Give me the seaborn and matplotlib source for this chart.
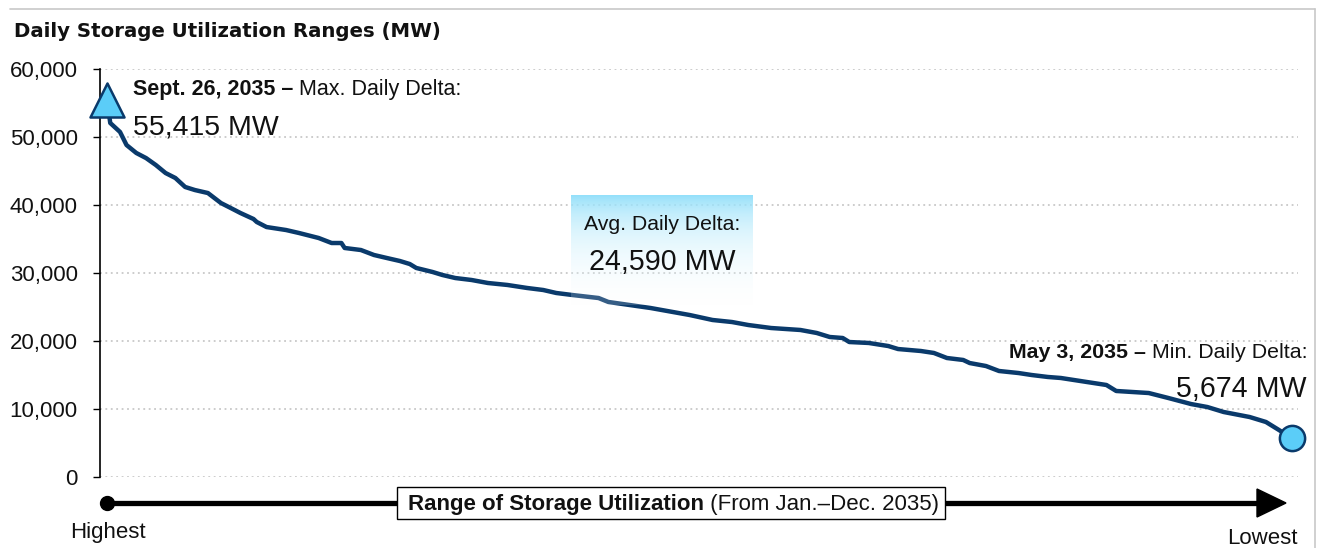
import numpy as np
import pandas as pd
import matplotlib
matplotlib.use("Agg")
import matplotlib.pyplot as plt
import seaborn as sns
from matplotlib import font_manager as fm
from matplotlib.patches import Rectangle, Polygon
from matplotlib.lines import Line2D
from matplotlib.ticker import FuncFormatter

# ---------------- data ----------------
day_rank = [1, 2, 5, 7, 10, 13, 16, 19, 22, 25, 28, 32, 36, 39, 42, 46, 47, 50, 56, 60,
            66, 70, 73, 74, 79, 83, 87, 91, 94, 96, 101, 104, 108, 113, 118, 124, 130, 135,
            139, 144, 152, 155, 168, 180, 187, 193, 198, 205, 214, 219, 223, 227, 229, 235,
            241, 244, 251, 255, 259, 264, 266, 271, 275, 281, 285, 290, 294, 302, 308, 311,
            321, 327, 334, 339, 344, 352, 357, 361, 365]
daily_delta_mw = [55415, 52060, 50740, 48820, 47650, 46900, 45880, 44700, 43970, 42650,
                  42200, 41760, 40290, 39560, 38820, 37940, 37500, 36760, 36320, 35880,
                  35150, 34410, 34410, 33680, 33380, 32650, 32200, 31760, 31320, 30740,
                  30150, 29710, 29260, 28970, 28530, 28240, 27800, 27500, 27060, 26760,
                  26320, 25740, 24850, 23820, 23090, 22790, 22350, 21910, 21620, 21180,
                  20590, 20440, 19850, 19710, 19260, 18820, 18530, 18240, 17500, 17210,
                  16760, 16320, 15590, 15290, 15000, 14710, 14560, 13970, 13530, 12650,
                  12350, 11620, 10730, 10290, 9560, 8820, 8090, 6910, 5674]
y_ticks = [0, 10000, 20000, 30000, 40000, 50000, 60000]

title_text = "Daily Storage Utilization Ranges (MW)"
max_date = "Sept. 26, 2035 \u2013"
max_label = " Max. Daily Delta:"
max_value = "55,415 MW"
avg_label = "Avg. Daily Delta:"
avg_value = "24,590 MW"
min_date = "May 3, 2035 \u2013"
min_label = " Min. Daily Delta:"
min_value = "5,674 MW"
range_bold = "Range of Storage Utilization"
range_reg = " (From Jan.\u2013Dec. 2035)"
left_end = "Highest"
right_end = "Lowest"

df = pd.DataFrame({"rank": day_rank, "mw": daily_delta_mw})

# ---------------- style ----------------
sns.set_theme(style="white")
names = {f.name for f in fm.fontManager.ttflist}
NARROW = "Liberation Sans Narrow" if "Liberation Sans Narrow" in names else "Liberation Sans"
plt.rcParams["font.family"] = [NARROW, "DejaVu Sans"]

W, H = 1319, 548
fig = plt.figure(figsize=(W / 100, H / 100), dpi=100)
fig.patch.set_facecolor("white")

def fx(px):
    return px / W

def fy(py):
    return 1 - py / H

NAVY = "#0a3a6b"
CYAN = "#5bcdf8"
TXT = "#111111"

ax_l, ax_r, ax_t, ax_b = 100, 1298, 69, 477
ax = fig.add_axes([fx(ax_l), fy(ax_b), fx(ax_r) - fx(ax_l), fy(ax_t) - fy(ax_b)], zorder=1)
ax.set_facecolor("none")

sns.lineplot(data=df, x="rank", y="mw", ax=ax, color=NAVY, linewidth=3.2,
             solid_joinstyle="round", zorder=3)

# end markers
ax.scatter([df["rank"].iloc[0]], [df["mw"].iloc[0]], marker="^", s=600,
           facecolor=CYAN, edgecolor=NAVY, linewidth=1.8, zorder=5, clip_on=False)
ax.scatter([df["rank"].iloc[-1]], [df["mw"].iloc[-1]], marker="o", s=330,
           facecolor=CYAN, edgecolor=NAVY, linewidth=1.8, zorder=5, clip_on=False)

px_per_day = (1292 - 107) / 364
ax.set_xlim(1 - (107 - ax_l) / px_per_day, 365 + (ax_r - 1292) / px_per_day)
ax.set_ylim(0, 60000)
ax.set_yticks(y_ticks)
ax.yaxis.set_major_formatter(FuncFormatter(lambda v, p: f"{v:,.0f}"))
ax.tick_params(axis="y", which="major", left=True, length=5, width=1, color="black",
               pad=11, labelsize=16, labelcolor=TXT)
ax.set_xticks([])
ax.set_xlabel("")
ax.set_ylabel("")
for s in ["top", "right", "bottom"]:
    ax.spines[s].set_visible(False)
ax.spines["left"].set_color("black")
ax.spines["left"].set_linewidth(1.2)
ax.grid(axis="y", color="#c8c8c8", linestyle=(0, (1, 2)), linewidth=1.3)
ax.grid(axis="x", visible=False)
ax.set_axisbelow(True)

# gradient box for average
bx0, bx1, by0, by1 = 571, 753, 195, 305
ax_box = fig.add_axes([fx(bx0), fy(by1), fx(bx1) - fx(bx0), fy(by0) - fy(by1)], zorder=2)
n = 200
top = np.array([140, 222, 250]) / 255
bot = np.array([255, 255, 255]) / 255
t = np.linspace(0, 1, n)[:, None] ** 0.8
rgb = top * (1 - t) + bot * t
alpha = 0.95 * (1 - t) ** 1.5 + 0.18 * (1 - (1 - t) ** 1.5)
grad = np.concatenate([rgb, alpha], axis=1)[:, None, :]
ax_box.imshow(grad, aspect="auto", interpolation="bilinear")
ax_box.axis("off")

# ---------------- texts ----------------
fig.text(fx(14), fy(37), title_text, fontsize=14.2, fontweight="bold",
         family=["DejaVu Sans"], va="baseline", ha="left", color=TXT)

t1 = fig.text(fx(133), fy(95), max_date, fontsize=15.5, fontweight="bold",
              va="baseline", ha="left", color=TXT, zorder=6)
fig.canvas.draw()
fig.text(t1.get_window_extent().x1 / W, fy(95), max_label, fontsize=15.5,
         va="baseline", ha="left", color=TXT, zorder=6)
fig.text(fx(133), fy(134), max_value, fontsize=20.5, va="baseline", ha="left",
         color=TXT, zorder=6)

fig.text(fx(662), fy(230), avg_label, fontsize=15.3, va="baseline", ha="center",
         color=TXT, zorder=6)
fig.text(fx(662), fy(270), avg_value, fontsize=20.6, va="baseline", ha="center",
         color=TXT, zorder=6)

t2 = fig.text(fx(1307), fy(358), min_label, fontsize=15.4, va="baseline", ha="right",
              color=TXT, zorder=6)
fig.canvas.draw()
fig.text(t2.get_window_extent().x0 / W, fy(358), min_date, fontsize=15.4, fontweight="bold",
         va="baseline", ha="right", color=TXT, zorder=6)
fig.text(fx(1306), fy(397), min_value, fontsize=20.6, va="baseline", ha="right",
         color=TXT, zorder=6)

# ---------------- bottom arrow ----------------
ay = 503
fig.add_artist(Line2D([fx(107), fx(1262)], [fy(ay), fy(ay)], color="black",
                      linewidth=3.8, solid_capstyle="butt", zorder=4))
fig.add_artist(Line2D([fx(107)], [fy(ay)], marker="o", markersize=10,
                      color="black", zorder=4))
fig.add_artist(Polygon([[fx(1257), fy(ay - 14)], [fx(1257), fy(ay + 14)], [fx(1286), fy(ay)]],
                       closed=True, facecolor="black", edgecolor="black", zorder=4))
fig.add_artist(Rectangle((fx(397), fy(519)), fx(945) - fx(397), fy(487) - fy(519),
                         facecolor="white", edgecolor="black", linewidth=1.0, zorder=5))
t3 = fig.text(fx(408), fy(510), range_bold, fontsize=16, fontweight="bold",
              va="baseline", ha="left", color=TXT, zorder=6)
fig.canvas.draw()
fig.text(t3.get_window_extent().x1 / W, fy(510), range_reg, fontsize=16,
         va="baseline", ha="left", color=TXT, zorder=6)

fig.text(fx(108), fy(538), left_end, fontsize=16, va="baseline", ha="center", color=TXT)
fig.text(fx(1262), fy(544), right_end, fontsize=16, va="baseline", ha="center", color=TXT)

# frame lines (top and right)
fig.add_artist(Line2D([fx(10), fx(1315)], [fy(9), fy(9)], color="#c8c8c8", linewidth=1.2))
fig.add_artist(Line2D([fx(1315), fx(1315)], [fy(9), fy(548)], color="#c8c8c8", linewidth=1.2))

fig.savefig("out.png", dpi=100, facecolor="white")
